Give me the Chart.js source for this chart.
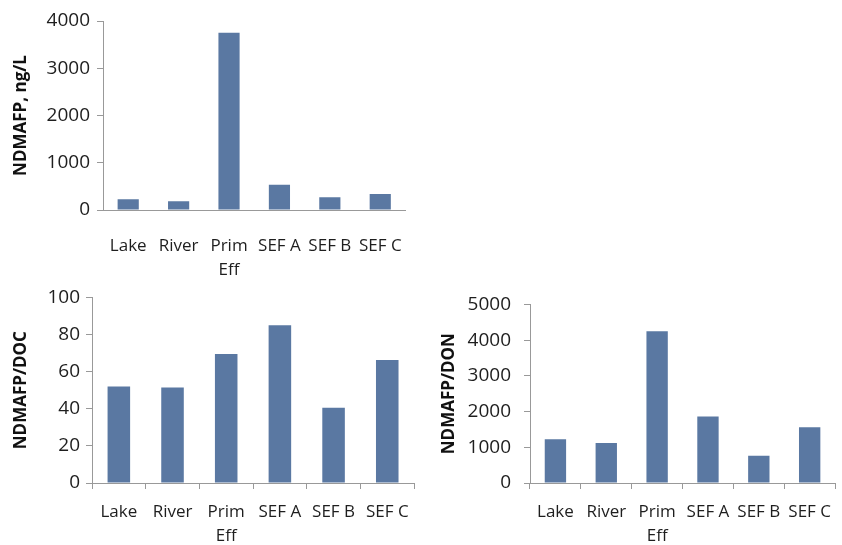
<!DOCTYPE html>
<html>
<head>
<meta charset="utf-8">
<script src="https://cdn.jsdelivr.net/npm/chart.js@4.4.0/dist/chart.umd.min.js"></script>
<style>
  body { margin: 0; background: #fff; }
  .box { position: absolute; }
</style>
</head>
<body>
<div class="box" style="left:0;top:0;width:420px;height:275px"><canvas id="c1"></canvas></div>
<div class="box" style="left:0;top:280px;width:420px;height:265px"><canvas id="c2"></canvas></div>
<div class="box" style="left:420px;top:280px;width:422px;height:265px"><canvas id="c3"></canvas></div>
<script>
// data
const categories = ['Lake', 'River', ['Prim', 'Eff'], 'SEF A', 'SEF B', 'SEF C'];
const ndmafpNgL = [226, 183, 3753, 536, 268, 339];
const ndmafpDoc = [52, 51.5, 69.5, 85, 40.5, 66.3];
const ndmafpDon = [1226, 1119, 4245, 1865, 764, 1563];

Chart.defaults.font.family = "'Open Sans', sans-serif";
Chart.defaults.color = '#1e1e1e';

const axisGray = '#999';

function makeChart(id, values, yTitle, yMax, step, cfg) {
    const ctx = document.getElementById(id);
    return new Chart(ctx, {
        type: 'bar',
        data: {
            labels: categories,
            datasets: [{
                data: values,
                backgroundColor: '#5a78a2',
                borderWidth: 0,
                barPercentage: 0.42,
                categoryPercentage: 1
            }]
        },
        options: {
            responsive: true,
            maintainAspectRatio: false,
            animation: false,
            layout: { padding: { top: cfg.top, right: cfg.right, left: 0, bottom: 0 } },
            plugins: { legend: { display: false }, tooltip: { enabled: false } },
            scales: {
                x: {
                    grid: {
                        display: cfg.xTicks,
                        drawOnChartArea: false,
                        drawTicks: true,
                        tickLength: 6,
                        color: axisGray,
                        offset: true
                    },
                    border: { display: true, color: axisGray },
                    ticks: {
                        font: { size: 17, lineHeight: 1.4 },
                        padding: cfg.xPad,
                        maxRotation: 0,
                        autoSkip: false
                    },
                    afterFit: (scale) => { scale.height = cfg.xHeight; }
                },
                y: {
                    min: 0,
                    max: yMax,
                    grid: {
                        drawOnChartArea: false,
                        drawTicks: true,
                        tickLength: 6,
                        color: axisGray
                    },
                    border: { display: true, color: axisGray },
                    ticks: {
                        stepSize: step,
                        font: { size: 19 },
                        padding: cfg.yPad,
                        callback: (v) => String(v)   // tanpa koma ribuan
                    },
                    title: {
                        display: true,
                        text: yTitle,
                        color: '#111',
                        font: { size: 17, weight: 'bold' },
                        padding: { top: cfg.titlePad, bottom: 0 }
                    },
                    afterFit: (scale) => { scale.width = cfg.yWidth; }
                }
            }
        }
    });
}

makeChart('c1', ndmafpNgL, 'NDMAFP, ng/L', 4000, 1000,
    { top: 21, right: 5, yWidth: 103, xHeight: 65, xTicks: false, xPad: 18, yPad: 7, titlePad: 11 });
makeChart('c2', ndmafpDoc, 'NDMAFP/DOC', 100, 20,
    { top: 15, right: 5, yWidth: 92, xHeight: 62, xTicks: true, xPad: 11, yPad: 6, titlePad: 11 });
makeChart('c3', ndmafpDon, 'NDMAFP/DON', 5000, 1000,
    { top: 15, right: 0, yWidth: 110, xHeight: 62, xTicks: true, xPad: 11, yPad: 13, titlePad: 19 });
</script>
</body>
</html>
